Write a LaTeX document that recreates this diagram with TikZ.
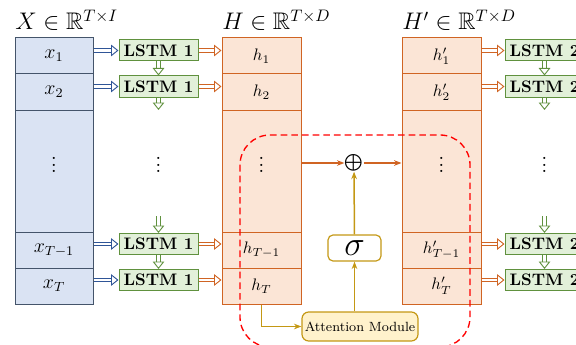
\documentclass[tikz,border=0pt]{standalone}
\usepackage{amsmath,amssymb}
\usetikzlibrary{arrows.meta}
\definecolor{xfill}{RGB}{218,227,243}
\definecolor{xline}{RGB}{68,84,106}
\definecolor{xarrow}{RGB}{47,85,151}
\definecolor{lfill}{RGB}{226,240,217}
\definecolor{lline}{RGB}{96,145,62}
\definecolor{hfill}{RGB}{251,229,214}
\definecolor{hline}{RGB}{208,100,35}
\definecolor{afill}{RGB}{255,242,204}
\definecolor{aline}{RGB}{196,152,20}
\begin{document}
\begin{tikzpicture}[x=0.6pt, y=-0.6pt,
  xcell/.style={draw=xline, fill=xfill, line width=0.6pt, minimum width=46.8pt, minimum height=21.6pt, inner sep=0pt, font=\large},
  hcell/.style={draw=hline, fill=hfill, line width=0.6pt, minimum width=47.4pt, minimum height=21.6pt, inner sep=0pt},
  lstm/.style={draw=lline, fill=lfill, line width=0.6pt, minimum width=47.4pt, minimum height=12.6pt, inner sep=0pt, font=\bfseries},
  dots/.style={font=\footnotesize\bfseries, inner sep=0pt},
  title/.style={anchor=base west, font=\Large, inner sep=0pt},
  dbl/.style={double=white, double distance=1.7pt, line width=0.55pt, -{Triangle[open, length=4.5pt, width=7pt]}},
  flow/.style={line width=0.9pt, -{Stealth[length=4.5pt]}}]
\path[use as bounding box, clip] (0,0) rectangle (576,344);
\node[title] (xt) at (15,30) {$X \in \mathbb{R}^{T\times I}$};
\node[title] (ht) at (222,30) {$H \in \mathbb{R}^{T\times D}$};
\node[title] (gt) at (402,30) {$H' \in \mathbb{R}^{T\times D}$};
\node[xcell] (x1) at (54,56) {$x_1$};
\node[xcell] (x2) at (54,92) {$x_2$};
\node[xcell, minimum height=73.2pt] (x3) at (54,171) {};
\node[xcell] (x4) at (54,250) {$x_{T-1}$};
\node[xcell] (x5) at (54,286) {$x_T$};
\node[dots] (xd) at (54,160) {$\vdots$};
\node[hcell] (h1) at (261.5,56) {$h_1$};
\node[hcell] (h2) at (261.5,92) {$h_2$};
\node[hcell, minimum height=73.2pt] (h3) at (261.5,171) {};
\node[hcell] (h4) at (261.5,250) {$h_{T-1}$};
\node[hcell] (h5) at (261.5,286) {$h_T$};
\node[dots] (hd) at (261.5,160) {$\vdots$};
\node[hcell] (g1) at (441.5,56) {$h'_1$};
\node[hcell] (g2) at (441.5,92) {$h'_2$};
\node[hcell, minimum height=73.2pt] (g3) at (441.5,171) {};
\node[hcell] (g4) at (441.5,250) {$h'_{T-1}$};
\node[hcell] (g5) at (441.5,286) {$h'_T$};
\node[dots] (gd) at (441.5,160) {$\vdots$};
\node[lstm] (a1) at (158.5,50.5) {LSTM 1};
\node[lstm] (a2) at (158.5,86.5) {LSTM 1};
\node[lstm] (a4) at (158.5,244) {LSTM 1};
\node[lstm] (a5) at (158.5,280) {LSTM 1};
\node[dots] (ad) at (158.5,160) {$\vdots$};
\node[lstm] (b1) at (544.5,50.5) {LSTM 2};
\node[lstm] (b2) at (544.5,86.5) {LSTM 2};
\node[lstm] (b4) at (544.5,244) {LSTM 2};
\node[lstm] (b5) at (544.5,280) {LSTM 2};
\node[dots] (bd) at (544.5,160) {$\vdots$};
\coordinate (a2e) at (158.5,110);
\coordinate (a4s) at (158.5,216);
\coordinate (b2e) at (544.5,110);
\coordinate (b4s) at (544.5,216);
\node[inner sep=0pt] (plus) at (354,163) {$\bigoplus$};
\node[draw=aline, fill=white, line width=0.7pt, rounded corners=3pt, minimum width=31.8pt, minimum height=15.6pt, inner sep=0pt, font=\huge] (sig) at (354.5,248) {$\sigma$};
\node[draw=aline, fill=afill, line width=0.7pt, rounded corners=4pt, minimum width=69.6pt, minimum height=17.4pt, inner sep=0pt, font=\footnotesize] (att) at (360,326.5) {Attention Module};
\draw[dbl, xarrow] (x1.east |- a1) -- (a1);
\draw[dbl, xarrow] (x2.east |- a2) -- (a2);
\draw[dbl, xarrow] (x4.east |- a4) -- (a4);
\draw[dbl, xarrow] (x5.east |- a5) -- (a5);
\draw[dbl, lline] (a1) -- (a2);
\draw[dbl, lline] (a2) -- (a2e);
\draw[dbl, lline] (a4s) -- (a4);
\draw[dbl, lline] (a4) -- (a5);
\draw[dbl, hline] (a1) -- (h1.west |- a1);
\draw[dbl, hline] (a2) -- (h2.west |- a2);
\draw[dbl, hline] (a4) -- (h4.west |- a4);
\draw[dbl, hline] (a5) -- (h5.west |- a5);
\draw[dbl, hline] (g1.east |- b1) -- (b1);
\draw[dbl, hline] (g2.east |- b2) -- (b2);
\draw[dbl, hline] (g4.east |- b4) -- (b4);
\draw[dbl, hline] (g5.east |- b5) -- (b5);
\draw[dbl, lline] (b1) -- (b2);
\draw[dbl, lline] (b2) -- (b2e);
\draw[dbl, lline] (b4s) -- (b4);
\draw[dbl, lline] (b4) -- (b5);
\draw[flow, hline] (h3.east |- plus) -- (plus);
\draw[flow, hline] (plus) -- (g3.west |- plus);
\draw[flow, aline] (sig) -- (plus);
\draw[flow, aline] (sig |- att.north) -- (sig);
\draw[flow, aline] (h5.south) |- (att.west);
\draw[red, line width=0.8pt, dash pattern=on 4pt off 2.4pt, rounded corners=18pt] (240,135) rectangle (470,347);
\end{tikzpicture}
\end{document}
